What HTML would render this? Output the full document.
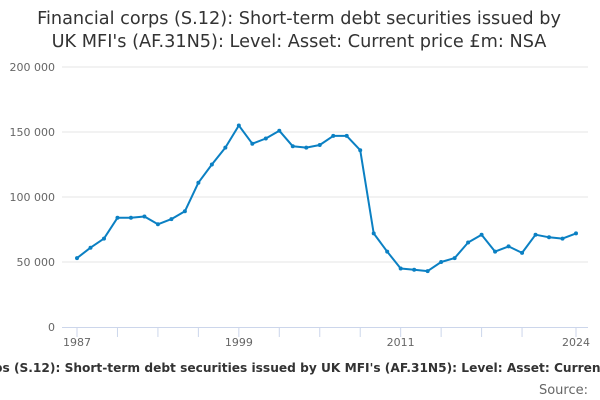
<!DOCTYPE html>
<html><head><meta charset="utf-8"><style>
html,body{margin:0;padding:0;background:#fff;}
svg{display:block;font-family:"DejaVu Sans","Liberation Sans",sans-serif;}
</style></head><body>
<svg id="chart" width="600" height="400" viewBox="0 0 600 400">
<text x="299" y="24" text-anchor="middle" font-size="17.7" fill="#333">Financial corps (S.12): Short-term debt securities issued by</text>
<text x="299" y="47" text-anchor="middle" font-size="17.7" fill="#333">UK MFI's (AF.31N5): Level: Asset: Current price £m: NSA</text>
<g id="grid"></g>
<g id="yaxis"></g>
<g id="xaxis"></g>
<g id="series"></g>
<text x="307" y="372" text-anchor="middle" font-size="12.2" font-weight="bold" fill="#333">Financial corps (S.12): Short-term debt securities issued by UK MFI's (AF.31N5): Level: Asset: Current price £m: NSA</text>
<text x="588" y="394" text-anchor="end" font-size="13" fill="#666">Source:</text>
</svg>
<script>
const years=[1987,1988,1989,1990,1991,1992,1993,1994,1995,1996,1997,1998,1999,2000,2001,2002,2003,2004,2005,2006,2007,2008,2009,2010,2011,2012,2013,2014,2015,2016,2017,2018,2019,2020,2021,2022,2023,2024];
const values=[53,61,68,84,84,85,79,83,89,111,125,138,155,141,145,151,139,138,140,147,147,136,72,58,45,44,43,50,53,65,71,58,62,57,71,69,68,72].map(v=>v*1000);
const yTicks=[0,50000,100000,150000,200000];
const yTickLabels=["0","50 000","100 000","150 000","200 000"];
const xTickYears=[1987,1990,1993,1996,1999,2002,2005,2008,2011,2014,2017,2020,2024];
const xLabelYears=[1987,1999,2011,2024];
const NS="http://www.w3.org/2000/svg";
const x=y=>77+(y-1987)*(576-77)/(2024-1987);
const yS=v=>327-v*(327-67)/200000;
function mk(tag,attrs,parent){const e=document.createElementNS(NS,tag);for(const k in attrs)e.setAttribute(k,attrs[k]);parent.appendChild(e);return e;}
const grid=document.getElementById('grid'),ya=document.getElementById('yaxis'),xa=document.getElementById('xaxis'),se=document.getElementById('series');
yTicks.forEach((t,i)=>{
 if(t>0){const l=mk('line',{x1:62,x2:588,y1:yS(t),y2:yS(t),stroke:'#e6e6e6','stroke-width':1},grid);
 
 }
 const tx=mk('text',{x:55,y:yS(t)+4,'text-anchor':'end','font-size':11,fill:'#666'},ya);
 tx.textContent=yTickLabels[i];
 
 
});
const ax=mk('line',{x1:62,x2:588,y1:327.5,y2:327.5,stroke:'#ccd6eb','stroke-width':1},xa);


xTickYears.forEach(yr=>{
 const t=mk('line',{x1:x(yr),x2:x(yr),y1:327,y2:337,stroke:'#ccd6eb','stroke-width':1},xa);
 
 
});
xLabelYears.forEach(yr=>{
 const t=mk('text',{x:x(yr),y:346,'text-anchor':'middle','font-size':11,fill:'#666'},xa);
 t.textContent=yr;
 
 
});
const pts=years.map((yr,i)=>x(yr)+','+yS(values[i])).join(' ');
const pl=mk('polyline',{points:pts,fill:'none',stroke:'#0b80c3','stroke-width':2,'stroke-linejoin':'round'},se);


years.forEach((yr,i)=>{
 const c=mk('circle',{cx:x(yr),cy:yS(values[i]),r:2,fill:'#0b80c3'},se);
 
 
});
</script>
</body></html>
